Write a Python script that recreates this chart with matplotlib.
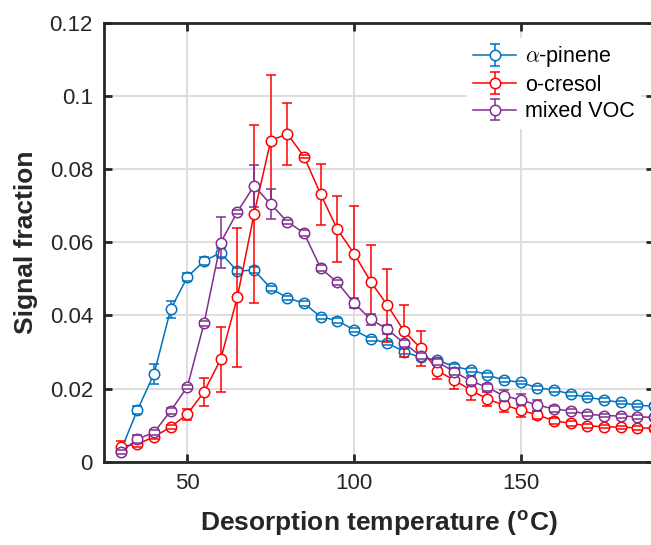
import matplotlib
matplotlib.use('Agg')
import matplotlib.pyplot as plt
from matplotlib.ticker import FuncFormatter

plt.rcParams['font.family'] = 'Liberation Sans'
plt.rcParams['mathtext.fontset'] = 'cm'

# desorption temperature (deg C)
temp = [30, 35, 40, 45, 50, 55, 60, 65, 70, 75, 80, 85, 90, 95, 100, 105, 110,
        115, 120, 125, 130, 135, 140, 145, 150, 155, 160, 165, 170, 175, 180, 185, 190]

pinene = [0.0030, 0.0141, 0.0240, 0.0417, 0.0505, 0.0549, 0.0571, 0.0521, 0.0524,
          0.0474, 0.0448, 0.0433, 0.0396, 0.0386, 0.0360, 0.0336, 0.0324, 0.0301,
          0.0285, 0.0278, 0.0260, 0.0251, 0.0237, 0.0223, 0.0217, 0.0202, 0.0196,
          0.0185, 0.0176, 0.0169, 0.0162, 0.0154, 0.0152]
pinene_err = [0.0005, 0.0010, 0.0027, 0.0023, 0.0010, 0.0010, 0.0012, 0.0008, 0.0008,
              0.0006, 0.0006, 0.0006, 0.0006, 0.0006, 0.0006, 0.0006, 0.0006, 0.0006,
              0.0006, 0.0006, 0.0006, 0.0006, 0.0005, 0.0005, 0.0005, 0.0005, 0.0005,
              0.0005, 0.0005, 0.0005, 0.0005, 0.0005, 0.0005]

cresol = [0.0041, 0.0048, 0.0068, 0.0095, 0.0130, 0.0191, 0.0280, 0.0450, 0.0677,
          0.0878, 0.0896, 0.0834, 0.0731, 0.0635, 0.0569, 0.0492, 0.0428, 0.0357,
          0.0310, 0.0249, 0.0223, 0.0196, 0.0171, 0.0155, 0.0141, 0.0128, 0.0112,
          0.0105, 0.0098, 0.0096, 0.0094, 0.0093, 0.0091]
cresol_err = [0.0015, 0.0007, 0.0006, 0.0006, 0.0015, 0.0038, 0.0089, 0.0190, 0.0244,
              0.0180, 0.0084, 0.0005, 0.0084, 0.0090, 0.0129, 0.0100, 0.0100, 0.0071,
              0.0048, 0.0023, 0.0023, 0.0027, 0.0020, 0.0018, 0.0020, 0.0012, 0.0008,
              0.0006, 0.0005, 0.0005, 0.0005, 0.0005, 0.0005]

mixed = [0.0026, 0.0062, 0.0080, 0.0139, 0.0205, 0.0378, 0.0599, 0.0683, 0.0754,
         0.0704, 0.0656, 0.0625, 0.0529, 0.0490, 0.0434, 0.0389, 0.0362, 0.0324,
         0.0289, 0.0273, 0.0246, 0.0221, 0.0203, 0.0180, 0.0169, 0.0155, 0.0144,
         0.0139, 0.0130, 0.0126, 0.0125, 0.0123, 0.0121]
mixed_err = [0.0005, 0.0012, 0.0006, 0.0008, 0.0006, 0.0006, 0.0069, 0.0005, 0.0057,
             0.0041, 0.0005, 0.0008, 0.0008, 0.0008, 0.0013, 0.0015, 0.0012, 0.0010,
             0.0008, 0.0008, 0.0010, 0.0012, 0.0010, 0.0015, 0.0015, 0.0015, 0.0008,
             0.0006, 0.0005, 0.0005, 0.0005, 0.0005, 0.0005]

series = [
    (pinene, pinene_err, '#0072BD', r'$\alpha$-pinene'),
    (cresol, cresol_err, '#FF0000', 'o-cresol'),
    (mixed, mixed_err, '#7E2F8E', 'mixed VOC'),
]

fig = plt.figure(figsize=(6.51, 5.45), dpi=100)
ax = fig.add_axes([0.1598, 0.1528, 0.8449, 0.8055])

dark = '#262626'
for i, (vals, err, col, lab) in enumerate(series):
    z = 3 + i
    eb = ax.errorbar(temp, vals, yerr=err, fmt='-o', color=col, lw=1.1,
                     ms=7.5, mfc='white', mec=col, mew=1.1,
                     capsize=3.3, capthick=1.1, elinewidth=1.1, label=lab,
                     zorder=z)
    eb[0].set_zorder(z)
    for c in eb[1]:
        c.set_zorder(z + 0.2)
    for b in eb[2]:
        b.set_zorder(z - 0.1)

ax.set_xlim(25, 190)
ax.set_ylim(0, 0.12)
ax.set_xticks([50, 100, 150])
ax.set_yticks([0, 0.02, 0.04, 0.06, 0.08, 0.1, 0.12])
ax.yaxis.set_major_formatter(FuncFormatter(lambda v, p: '%g' % round(v, 4)))

ax.grid(True, color='#dedede', lw=1.4)
ax.set_axisbelow(True)
for s in ax.spines.values():
    s.set_color(dark)
    s.set_linewidth(2.0)
ax.tick_params(direction='in', length=6, width=2.0, color=dark,
               labelcolor=dark, labelsize=16, top=True, right=True, pad=8)

ax.set_xlabel(r'Desorption temperature ($^{\mathregular{o}}$C)', fontsize=19,
              fontweight='bold', color=dark, labelpad=11)
ax.set_ylabel('Signal fraction', fontsize=19, fontweight='bold', color=dark,
              labelpad=8)

leg = ax.legend(loc='upper left', bbox_to_anchor=(0.64, 0.99), fontsize=15.5,
                frameon=True, fancybox=False, edgecolor='none', framealpha=1,
                handlelength=2.0, handletextpad=0.4, labelspacing=0.25,
                borderpad=0.3)
for t in leg.get_texts():
    t.set_color('black')

fig.savefig('out.png', dpi=100)
